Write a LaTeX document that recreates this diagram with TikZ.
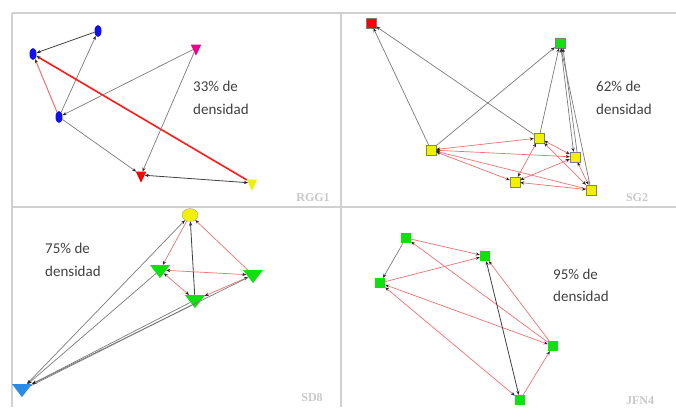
\documentclass[tikz,border=0pt]{standalone}
\usepackage{fontspec}
\setmainfont{Carlito}
\newfontfamily\labfont{Liberation Serif}
\usetikzlibrary{shapes.geometric,arrows.meta}
\definecolor{txtgray}{HTML}{404040}
\definecolor{lblgray}{HTML}{C8C8C8}
\definecolor{frame}{HTML}{D0D0D0}
\definecolor{pinkred}{HTML}{F07070}
\definecolor{edgegray}{HTML}{7A7A7A}
\definecolor{myblue}{HTML}{1010F0}
\definecolor{mygreen}{HTML}{10E010}
\definecolor{myyellow}{HTML}{F0F000}
\definecolor{skyblue}{HTML}{2A8CE8}
\begin{document}
\begin{tikzpicture}[x=1pt,y=-1pt,
  ell/.style={ellipse,draw=none,fill=myblue,minimum width=7pt,minimum height=12pt,inner sep=0pt},
  smtri/.style={isosceles triangle,shape border rotate=-90,isosceles triangle apex angle=50,draw=none,minimum height=11pt,minimum width=8pt,inner sep=0pt},
  bigtri/.style={isosceles triangle,shape border rotate=-90,isosceles triangle apex angle=75,draw=none,minimum height=13pt,minimum width=16pt,inner sep=0pt},
  sq/.style={rectangle,draw=black!50,line width=0.4pt,minimum size=10pt,inner sep=0pt},
  ge/.style={draw=edgegray,line width=0.7pt},
  be/.style={draw=black!75,line width=0.8pt},
  re/.style={draw=pinkred,line width=0.7pt},
  tre/.style={draw=red!90,line width=1.6pt},
  tip/.style={-{Stealth[length=4pt,width=3.2pt,color=black!85]}},
  btip/.style={{Stealth[length=4pt,width=3.2pt,color=black!85]}-{Stealth[length=4pt,width=3.2pt,color=black!85]}},
  dens/.style={anchor=base west,font=\fontsize{15pt}{18pt}\selectfont,text=txtgray,inner sep=0pt},
  lbl/.style={anchor=base,font=\labfont\bfseries\fontsize{12pt}{14pt}\selectfont,text=lblgray,inner sep=0pt}
]
\useasboundingbox (0,0) rectangle (676,407);
% frames
\draw[frame,line width=1.3pt] (12,13) -- (676,13);
\draw[frame,line width=1.3pt] (12,207) -- (676,207);
\draw[frame,line width=1.3pt] (12,13) -- (12,407);
\draw[frame,line width=1.3pt] (341,13) -- (341,407);

% ---------- Panel 1: RGG1 ----------
\node[ell] (a) at (33,54) {};
\node[ell] (b) at (98,31) {};
\node[ell] (c) at (59,117) {};
\node[smtri,fill=magenta] (d) at (196,48) {};
\node[smtri,fill=red] (e) at (141,175) {};
\node[smtri,fill=myyellow] (f) at (252,183) {};
\draw[be,tip] (b) -- (a);
\draw[ge,tip] (c) -- (b);
\draw[re,line width=1pt,tip] (c) -- (a);
\draw[tre,tip] (f) -- (a);
\draw[ge,tip] (d) -- (c);
\draw[ge,tip] (c) -- (e);
\draw[ge,tip] (d) -- (e);
\draw[be,btip] (e) -- (f);
\node[dens] (t1a) at (193,91) {33\% de};
\node[dens] (t1b) at (193,114) {densidad};
\node[lbl] (l1) at (313,201) {RGG1};

% ---------- Panel 2: SG2 ----------
\node[sq,fill=red] (r) at (371,23) {};
\node[sq,fill=mygreen] (g) at (560,43) {};
\node[sq,fill=myyellow] (y1) at (431,150) {};
\node[sq,fill=myyellow] (y2) at (539,138) {};
\node[sq,fill=myyellow] (y3) at (575,157) {};
\node[sq,fill=myyellow] (y4) at (515,182) {};
\node[sq,fill=myyellow] (y5) at (591,190) {};
\draw[ge,tip] (y1) -- (r);
\draw[ge,tip] (y2) -- (r);
\draw[ge,tip] (y1) -- (g);
\draw[ge,tip] (y2) -- (g);
\draw[ge,btip] ([xshift=-1.5pt]y3.north) -- ([xshift=1pt]g.south);
\draw[ge,tip] ([xshift=2pt]y3.north) -- ([xshift=3pt]g.south);
\draw[ge,tip] (y5) -- (g);
\draw[re,btip] (y1) -- (y2);
\draw[re,btip] (y1) -- (y3);
\draw[re,btip] (y1) -- (y4);
\draw[re,tip] (y5) -- (y1);
\draw[re,btip] (y2) -- (y3);
\draw[re,btip] (y2) -- (y4);
\draw[re,btip] (y2) -- (y5);
\draw[re,btip] (y3) -- (y4);
\draw[re,btip] (y3) -- (y5);
\draw[re,btip] (y4) -- (y5);
\node[dens] (t2a) at (596,91) {62\% de};
\node[dens] (t2b) at (596,114) {densidad};
\node[lbl] (l2) at (637,201) {SG2};

% ---------- Panel 3: SD8 ----------
\node[ellipse,fill=myyellow,draw=black!40,line width=0.3pt,minimum width=16pt,minimum height=13pt,inner sep=0pt] (yc) at (190,215) {};
\node[bigtri,fill=mygreen] (t1) at (160,270) {};
\node[bigtri,fill=mygreen] (t2) at (253,275) {};
\node[bigtri,fill=mygreen] (t3) at (195,300) {};
\node[bigtri,fill=skyblue] (bl) at (22,389) {};
\draw[re,tip] (yc) -- (t1);
\draw[be,tip] (t3) -- (yc);
\draw[re,tip] (t2) -- (yc);
\draw[re,btip] (t1) -- (t2);
\draw[re,btip] (t1) -- (t3);
\draw[re,btip] (t3) -- (t2);
\draw[ge,btip] (bl) -- (yc);
\draw[ge,tip] (t1) -- (bl);
\draw[ge,tip] (t3) -- (bl);
\draw[ge] ([yshift=2pt]bl.east) -- ([yshift=2pt]t3.south east);
\draw[ge,tip] (t2) -- (bl);
\node[dens] (t3a) at (45,253) {75\% de};
\node[dens] (t3b) at (45,276) {densidad};
\node[lbl] (l3) at (312,401) {SD8};

% ---------- Panel 4: JFN4 ----------
\node[sq,fill=mygreen,draw=none] (s1) at (406,238) {};
\node[sq,fill=mygreen,draw=none] (s2) at (485,256) {};
\node[sq,fill=mygreen,draw=none] (s3) at (380,283) {};
\node[sq,fill=mygreen,draw=none] (s4) at (553,346) {};
\node[sq,fill=mygreen,draw=none] (s5) at (520,400) {};
\draw[ge,tip] (s1) -- (s3);
\draw[re,tip] (s1) -- (s2);
\draw[re,tip] (s3) -- (s2);
\draw[re,tip] (s4) -- (s1);
\draw[re,btip] (s4) -- (s3);
\draw[re,btip] (s5) -- (s3);
\draw[be,btip] (s2) -- (s5);
\draw[re,tip] (s4) -- (s2);
\draw[re,tip] (s5) -- (s4);
\node[dens] (t4a) at (553,279) {95\% de};
\node[dens] (t4b) at (553,301) {densidad};
\node[lbl] (l4) at (640,404) {JFN4};
\end{tikzpicture}
\end{document}
